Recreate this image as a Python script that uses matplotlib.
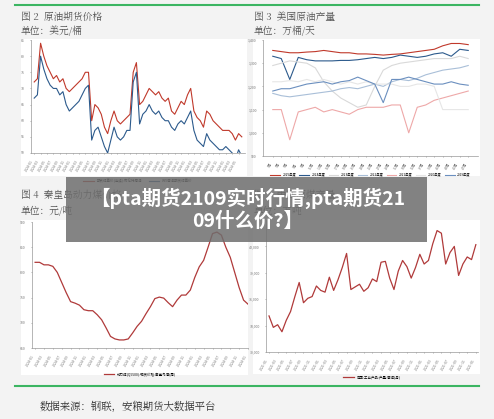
import matplotlib
matplotlib.use("Agg")
import matplotlib.pyplot as plt
import numpy as np

plt.rcParams['font.family'] = ['Noto Sans CJK SC', 'DejaVu Sans']

# Fig 2 crude oil futures
brent = [72,73,84,80,77,75,73,74,72,73,70,69,70,71,72,73,75,75,60,65,64,62,58,56,60,63,60,59,60,61,62,75,78,65,66,68,70,69,68,69,67,66,67,63,62,64,66,65,68,70,63,61,60,58,63,62,60,59,58,57,57,57,56,54,56,55]
wti   = [67,68,80,76,73,71,70,70,68,69,65,63,64,65,66,68,70,71,54,57,58,55,52,50,54,58,55,54,55,57,57,72,75,59,62,63,65,63,62,63,61,60,60,58,57,59,60,59,61,63,57,54,53,52,56,54,53,52,51,51,52,51,50,48,51,49]

# Fig 3 US crude output, series by year
s2025 = [1355,1350,1345,1345,1348,1350,1355,1350,1345,1345,1340,1340,1338,1335,1338,1340,1345,1350,1355,1360,1375,1385,1385,1380]
s2024 = [1330,1320,1230,1325,1315,1310,1310,1310,1312,1312,1315,1320,1325,1320,1325,1335,1330,1325,1330,1340,1345,1330,1360,1355]
s2023 = [1290,1300,1310,1305,1300,1280,1220,1180,1150,1130,1110,1120,1200,1270,1290,1300,1305,1310,1315,1320,1320,1320,1330,1320]
s2022 = [1170,1160,1155,1160,1165,1170,1175,1180,1190,1195,1190,1200,1210,1200,1220,1230,1225,1235,1250,1260,1270,1275,1280,1290]
s2021 = [1100,1100,970,1090,1100,1110,1090,1100,1090,1080,1100,1110,1110,1110,1120,1120,1000,1110,1120,1140,1150,1160,1170,1180]
s2020 = [1220,1220,1225,1220,1230,1220,1230,1220,1210,1220,1210,1220,1210,1210,1210,1200,1200,1210,1210,1200,1100,1100,1100,1100]
s2019 = [1180,1190,1190,1200,1210,1215,1220,1210,1220,1225,1240,1225,1210,1130,1230,1230,1240,1230,1220,1210,1210,1220,1210,1205]

# Fig 4 Qinhuangdao thermal coal
coal = [820,820,815,815,812,800,780,760,742,739,735,726,724,724,716,706,690,673,668,666,666,668,680,693,703,718,732,748,751,749,740,732,745,755,755,765,790,811,824,850,877,880,874,850,830,800,770,745,737]

# Fig 5 China coal output
output = [34100,32800,33100,32300,33600,34600,36300,37900,35600,36100,36300,37500,37000,36800,38500,37000,38200,39600,41200,37100,37400,37700,36900,37300,38300,38000,40200,40300,38400,37100,39200,40400,39700,38400,39600,41100,40000,40400,42300,43800,43500,40000,41300,42000,38700,40000,40800,40500,42200]

fig = plt.figure(figsize=(4.94, 4.19), dpi=100)
fig.patch.set_facecolor('#f3f3f3')
W, H = 494, 419
def ax_px(x0, y0, x1, y1):
    return fig.add_axes([x0/W, 1-y1/H, (x1-x0)/W, (y1-y0)/H], zorder=2)
def panel(x0, y0, x1, y1):
    fig.patches.append(plt.Rectangle((x0/W, 1-y1/H), (x1-x0)/W, (y1-y0)/H,
                       transform=fig.transFigure, facecolor='white', edgecolor='none', zorder=-1))
def style(ax):
    for s in ['top', 'right']:
        ax.spines[s].set_visible(False)
    for s in ['left', 'bottom']:
        ax.spines[s].set_color('#999999'); ax.spines[s].set_linewidth(0.5)
    ax.tick_params(labelsize=2.5, length=1, width=0.4, colors='#777777')
    ax.patch.set_alpha(0)
    plt.setp(ax.get_xticklabels(), rotation=60, ha='right')

for yy in (5, 386):
    fig.add_artist(plt.Line2D([15/W, 479/W], [1-yy/H]*2, color='#3cb562', lw=1.5))

txt = dict(fontsize=7, color='#555555', family=['Noto Serif CJK SC', 'Noto Sans CJK SC', 'DejaVu Sans'])
fig.text(21/W, 1-17/H, '图 2  原油期货价格', va='center', **txt)
fig.text(21/W, 1-31/H, '单位：美元/桶', va='center', **txt)
fig.text(254/W, 1-17/H, '图 3  美国原油产量', va='center', **txt)
fig.text(254/W, 1-31/H, '单位：万桶/天', va='center', **txt)
fig.text(21/W, 1-195/H, '图 4  秦皇岛动力煤价格', va='center', **txt)
fig.text(21/W, 1-211/H, '单位：元/吨', va='center', **txt)
fig.text(254/W, 1-195/H, '图 5  中国原煤产量', va='center', **txt)
fig.text(254/W, 1-211/H, '单位：万吨', va='center', **txt)

# Panel 2
panel(21, 39, 247, 176)
ax = ax_px(31, 40, 245, 153)
x = np.arange(len(brent))
ax.plot(x, brent, color='#c0392b', lw=0.8)
ax.plot(x, wti, color='#2c5a8c', lw=0.8)
ax.set_ylim(50, 85); ax.set_yticks(range(50, 86, 5)); ax.set_xlim(-1, len(brent))
ax.set_xticks(x[::2]); ax.set_xticklabels(['2024-%02d' % (i % 12 + 1) for i in x[::2]])
style(ax)
ax.legend(['期货结算价(连续):布伦特原油', 'WTI原油期货结算价'], loc='upper center', bbox_to_anchor=(0.5, -0.2),
          ncol=2, fontsize=2.5, frameon=False, handlelength=3)

# Panel 3
panel(253, 39, 480, 176)
ax = ax_px(263, 40, 478, 156)
x = np.arange(len(s2025))
cols = ['#c0392b', '#2c5a8c', '#d9d9d9', '#a9bfd8', '#eea8a8', '#e6e6e6', '#6b8fbf']
names = ['2025年度', '2024年度', '2023年度', '2022年度', '2021年度', '2020年度', '2019年度']
for s, c, n in zip([s2025, s2024, s2023, s2022, s2021, s2020, s2019], cols, names):
    ax.plot(x, s, color=c, lw=0.8, label=n)
ax.set_ylim(900, 1400); ax.set_yticks(range(900, 1401, 100))
ax.set_yticklabels(['900', '1,000', '1,100', '1,200', '1,300', '1,400'])
ax.set_xticks(x); ax.set_xticklabels(['%d周' % (2*i+1) for i in x])
style(ax)
ax.legend(loc='upper center', bbox_to_anchor=(0.5, -0.12), ncol=7, fontsize=2.3, frameon=False, handlelength=3, columnspacing=1)

# Panel 4
panel(21, 220, 248, 375)
ax = ax_px(32, 222, 248, 348)
x = np.arange(len(coal))
ax.plot(x, coal, color='#b03a3a', lw=0.9)
ax.set_ylim(650, 900); ax.set_yticks(range(650, 901, 50)); ax.set_xlim(-0.7, len(coal)-1)
ax.set_xticks(x[::2]); ax.set_xticklabels(['2024-%02d' % (i % 12 + 1) for i in x[::2]])
style(ax)
ax.legend(['动力煤(Q5500):现货价格:秦皇岛港(周)'], loc='upper center', bbox_to_anchor=(0.5, -0.17), fontsize=2.5, frameon=False, handlelength=3)

# Panel 5
panel(253, 220, 480, 374)
ax = ax_px(266, 220, 478, 352)
x = np.arange(len(output))
ax.plot(x, output, color='#b03a3a', lw=0.9)
ax.set_ylim(30000, 45000); ax.set_yticks(range(30000, 42001, 3000))
ax.set_yticklabels(['30,000', '33,000', '36,000', '39,000', '42,000'])
ax.set_xlim(-0.7, len(output)-0.5)
ax.set_xticks(x[::2]); ax.set_xticklabels(['2021-%02d' % (i % 12 + 1) for i in x[::2]])
style(ax)
ax.legend(['中国:工业产品:产量:原煤(月)'], loc='upper center', bbox_to_anchor=(0.5, -0.15), fontsize=2.5, frameon=False, handlelength=3)

fig.text(40/W, 1-407/H, '数据来源：钢联，安粮期货大数据平台', fontsize=7.5, va='center', color='#333333',
         family=['Noto Serif CJK SC', 'Noto Sans CJK SC', 'DejaVu Sans'])

# Title banner
fig.add_artist(plt.Rectangle((66/W, 1-242/H), 361/W, 65/H, transform=fig.transFigure,
               facecolor='#6e6e6e', alpha=0.85, edgecolor='none', zorder=5))
fig.text(248/W, 1-209/H, '【pta期货2109实时行情,pta期货21\n09什么价?】', ha='center', va='center',
         fontsize=14, fontweight='bold', color='white', linespacing=1.15, zorder=6)

fig.savefig('out.png', dpi=100, facecolor=fig.get_facecolor())
